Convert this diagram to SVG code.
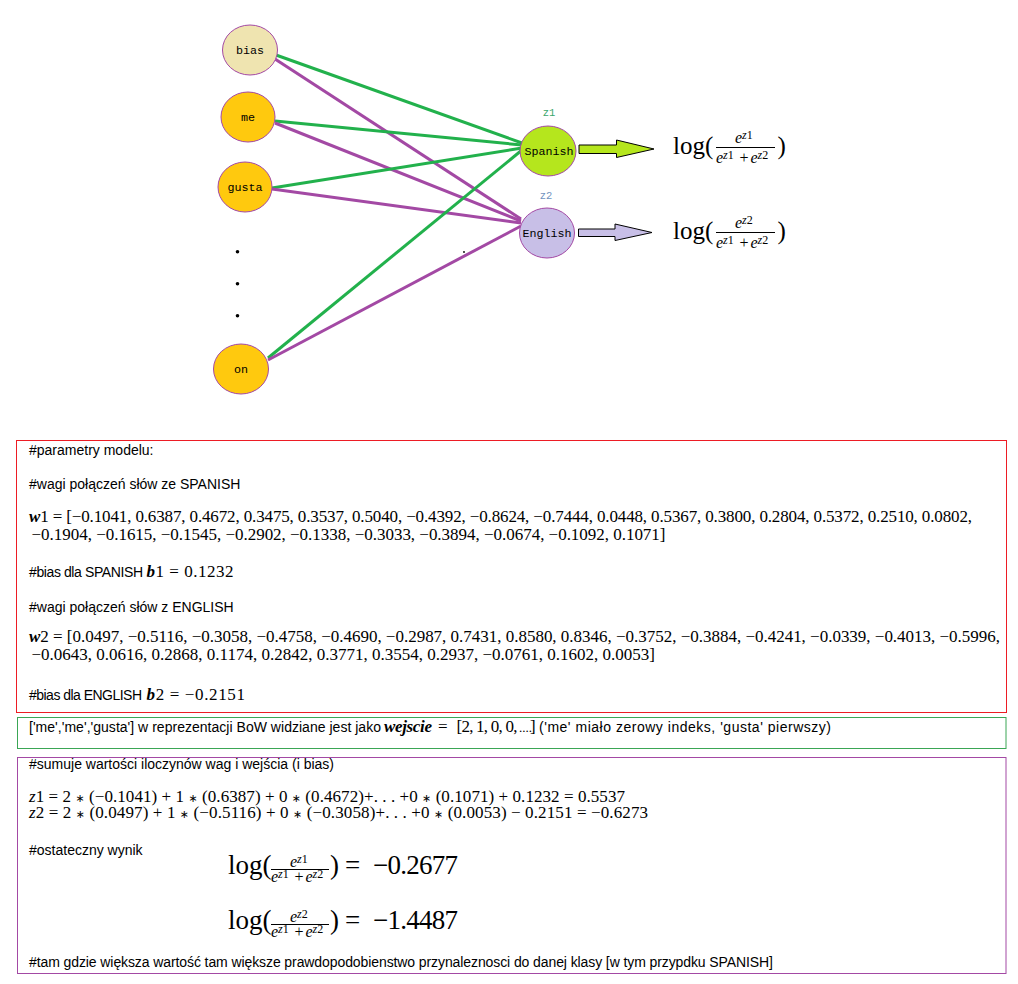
<svg xmlns="http://www.w3.org/2000/svg" width="1018" height="984" viewBox="0 0 1018 984">
  <style>
    .node { stroke: #a349a4; stroke-width: 1; }
    .lbl { font-family: "Liberation Mono", "Courier New", monospace; font-size: 11.7px; fill: #000; text-anchor: middle; }
    .zl { font-family: "Liberation Mono", "Courier New", monospace; font-size: 10.5px; text-anchor: middle; }
    .cg { stroke: #22b14c; stroke-width: 3; fill: none; }
    .cp { stroke: #a349a4; stroke-width: 3; fill: none; }
    .arr { stroke: #000; stroke-width: 1; }
    .t { font-family: "Liberation Sans", Arial, sans-serif; font-size: 14px; fill: #000; }
    .m { font-family: "Liberation Serif", "Times New Roman", serif; font-size: 17px; fill: #000; }
    .dots { font-family: "Liberation Serif", "Times New Roman", serif; font-size: 13px; fill: #000; }
    .big { font-family: "Liberation Serif", "Times New Roman", serif; font-size: 25px; fill: #000; }
    .big2 { font-family: "Liberation Serif", "Times New Roman", serif; font-size: 27px; fill: #000; }
    .fr { font-family: "Liberation Serif", "Times New Roman", serif; font-size: 16px; fill: #000; }
    .sup { font-size: 12px; }
    .i { font-style: italic; }
    .bi { font-style: italic; font-weight: bold; }
    .ast { font-family: "DejaVu Sans", sans-serif; font-size: 11px; }
    .bar { stroke: #000; stroke-width: 1; }
  </style>

  <!-- connectors: inputs to output units -->
  <g id="connectors">
    <line class="cg" x1="276" y1="55" x2="522" y2="143"/>
    <line class="cp" x1="275" y1="59" x2="521" y2="219"/>
    <line class="cg" x1="275" y1="121" x2="522" y2="145"/>
    <line class="cp" x1="275" y1="123" x2="521" y2="221"/>
    <line class="cg" x1="272" y1="188" x2="522" y2="148"/>
    <line class="cp" x1="272" y1="189" x2="521" y2="223"/>
    <line class="cg" x1="268" y1="358" x2="522" y2="150"/>
    <line class="cp" x1="268" y1="360" x2="521" y2="226"/>
  </g>

  <!-- input nodes -->
  <g id="node-bias">
    <ellipse class="node" cx="250" cy="50" rx="27.5" ry="25" fill="#efe4b0"/>
    <text class="lbl" x="250" y="54">bias</text>
  </g>
  <g id="node-me">
    <ellipse class="node" cx="248" cy="117" rx="27" ry="25" fill="#ffc90e"/>
    <text class="lbl" x="248" y="121">me</text>
  </g>
  <g id="node-gusta">
    <ellipse class="node" cx="245" cy="187" rx="27" ry="25" fill="#ffc90e"/>
    <text class="lbl" x="245" y="191">gusta</text>
  </g>
  <g id="ellipsis-dots" fill="#000">
    <circle cx="237.5" cy="251.7" r="1.8"/>
    <circle cx="237.5" cy="283.7" r="1.8"/>
    <circle cx="237.5" cy="315.7" r="1.8"/>
    <circle cx="464" cy="252" r="0.9"/>
  </g>
  <g id="node-on">
    <ellipse class="node" cx="241" cy="369" rx="27.5" ry="25" fill="#ffc90e"/>
    <text class="lbl" x="241" y="373">on</text>
  </g>

  <!-- output nodes -->
  <g id="node-spanish">
    <text class="zl" x="549" y="116" fill="#3aa66b">z1</text>
    <ellipse class="node" cx="548" cy="151" rx="28" ry="25" fill="#b5e61d"/>
    <text class="lbl" x="549" y="155">Spanish</text>
  </g>
  <g id="node-english">
    <text class="zl" x="546" y="199" fill="#7092be">z2</text>
    <ellipse class="node" cx="547" cy="233" rx="27.5" ry="25" fill="#c8bfe7"/>
    <text class="lbl" x="547" y="237">English</text>
  </g>

  <!-- output arrows -->
  <g id="arrow-spanish">
    <polygon class="arr" fill="#b5e61d" points="579,145 616.5,145 616.5,140 654,149 616.5,157.5 616.5,153.5 579,153.5"/>
  </g>
  <g id="arrow-english">
    <polygon class="arr" fill="#c8bfe7" points="578.5,229 615,229 615,224 652,232.5 615,240.5 615,236.5 578.5,236.5"/>
  </g>

  <!-- softmax formulas next to outputs -->
  <g id="formula-spanish">
    <text class="big" x="673" y="153.5">log(</text>
    <text class="fr"><tspan class="i" x="735" y="143">e</tspan><tspan class="sup i" x="742" y="139">z</tspan><tspan class="sup">1</tspan></text>
    <line class="bar" x1="716" y1="147.5" x2="775" y2="147.5"/>
    <text class="fr"><tspan class="i" x="716" y="162.5">e</tspan><tspan class="sup i" x="723" y="158.5">z</tspan><tspan class="sup">1</tspan><tspan x="739.5" y="162.5">+</tspan><tspan class="i" x="750.5" y="162.5">e</tspan><tspan class="sup i" x="757.5" y="158.5">z</tspan><tspan class="sup">2</tspan></text>
    <text class="big" x="777.5" y="153.5">)</text>
  </g>
  <g id="formula-english">
    <text class="big" x="673" y="238.5">log(</text>
    <text class="fr"><tspan class="i" x="735" y="228">e</tspan><tspan class="sup i" x="742" y="224">z</tspan><tspan class="sup">2</tspan></text>
    <line class="bar" x1="716" y1="232.5" x2="775" y2="232.5"/>
    <text class="fr"><tspan class="i" x="716" y="247.5">e</tspan><tspan class="sup i" x="723" y="243.5">z</tspan><tspan class="sup">1</tspan><tspan x="739.5" y="247.5">+</tspan><tspan class="i" x="750.5" y="247.5">e</tspan><tspan class="sup i" x="757.5" y="243.5">z</tspan><tspan class="sup">2</tspan></text>
    <text class="big" x="777.5" y="238.5">)</text>
  </g>

  <!-- model parameters -->
  <g id="box-params">
    <rect x="16.5" y="440.5" width="990" height="272" fill="none" stroke="#ed1c24" stroke-width="1"/>
    <text class="t" x="29" y="455">#parametry modelu:</text>
    <text class="t" x="29" y="489">#wagi połączeń słów ze SPANISH</text>
    <text class="m" x="29" y="522" textLength="943"><tspan class="bi">w</tspan>1 = [−0.1041, 0.6387, 0.4672, 0.3475, 0.3537, 0.5040, −0.4392, −0.8624, −0.7444, 0.0448, 0.5367, 0.3800, 0.2804, 0.5372, 0.2510, 0.0802,</text>
    <text class="m" x="31.5" y="540" textLength="634">−0.1904, −0.1615, −0.1545, −0.2902, −0.1338, −0.3033, −0.3894, −0.0674, −0.1092, 0.1071]</text>
    <text class="t" x="29" y="577" textLength="114">#bias dla SPANISH</text>
    <text class="m" x="146.5" y="577" textLength="87"><tspan class="bi">b</tspan>1 = 0.1232</text>
    <text class="t" x="29" y="612">#wagi połączeń słów z ENGLISH</text>
    <text class="m" x="29" y="642" textLength="971"><tspan class="bi">w</tspan>2 = [0.0497, −0.5116, −0.3058, −0.4758, −0.4690, −0.2987, 0.7431, 0.8580, 0.8346, −0.3752, −0.3884, −0.4241, −0.0339, −0.4013, −0.5996,</text>
    <text class="m" x="31.5" y="659.5" textLength="623.5">−0.0643, 0.0616, 0.2868, 0.1174, 0.2842, 0.3771, 0.3554, 0.2937, −0.0761, 0.1602, 0.0053]</text>
    <text class="t" x="29" y="700" textLength="113">#bias dla ENGLISH</text>
    <text class="m" x="146.5" y="700" textLength="98.5"><tspan class="bi">b</tspan>2 = −0.2151</text>
  </g>

  <!-- bag-of-words input -->
  <g id="box-input">
    <rect x="17.5" y="717.5" width="988.5" height="31" fill="none" stroke="#3aa655" stroke-width="1"/>
    <text class="t" x="29" y="732" textLength="352">['me','me','gusta'] w reprezentacji BoW widziane jest jako</text>
    <text class="m bi" x="384" y="732" textLength="48">wejscie</text>
    <text class="m" x="438" y="732">=</text>
    <text class="m" x="456.5" y="732" textLength="61">[2, 1, 0, 0,</text>
    <text class="dots" x="519" y="732">....</text>
    <text class="m" x="530" y="732">]</text>
    <text class="t" x="539" y="732" textLength="292">('me' miało zerowy indeks, 'gusta' pierwszy)</text>
  </g>

  <!-- computation of outputs -->
  <g id="box-result">
    <rect x="17.5" y="757.5" width="988.5" height="216" fill="none" stroke="#a349a4" stroke-width="1"/>
    <text class="t" x="29" y="769">#sumuje wartości iloczynów wag i wejścia (i bias)</text>
    <text class="m" x="29" y="802" textLength="596"><tspan class="i">z</tspan>1 = 2 <tspan class="ast">∗</tspan> (−0.1041) + 1 <tspan class="ast">∗</tspan> (0.6387) + 0 <tspan class="ast">∗</tspan> (0.4672)+. . . +0 <tspan class="ast">∗</tspan> (0.1071) + 0.1232 = 0.5537</text>
    <text class="m" x="29" y="818" textLength="619"><tspan class="i">z</tspan>2 = 2 <tspan class="ast">∗</tspan> (0.0497) + 1 <tspan class="ast">∗</tspan> (−0.5116) + 0 <tspan class="ast">∗</tspan> (−0.3058)+. . . +0 <tspan class="ast">∗</tspan> (0.0053) − 0.2151 = −0.6273</text>
    <text class="t" x="29" y="855">#ostateczny wynik</text>

    <text class="big2" x="228" y="873.5">log(</text>
    <text class="fr"><tspan class="i" x="290" y="866.5">e</tspan><tspan class="sup i" x="297" y="862.5">z</tspan><tspan class="sup">1</tspan></text>
    <line class="bar" x1="271" y1="869.5" x2="329" y2="869.5"/>
    <text class="fr"><tspan class="i" x="271" y="882">e</tspan><tspan class="sup i" x="278" y="878">z</tspan><tspan class="sup">1</tspan><tspan x="294.5" y="882">+</tspan><tspan class="i" x="305.5" y="882">e</tspan><tspan class="sup i" x="312.5" y="878">z</tspan><tspan class="sup">2</tspan></text>
    <text class="big2" x="330" y="873.5">)</text>
    <text class="big2" x="345" y="873.5">=</text>
    <text class="big2" x="373" y="873.5" textLength="85">−0.2677</text>

    <text class="big2" x="228" y="928.5">log(</text>
    <text class="fr"><tspan class="i" x="290" y="921.5">e</tspan><tspan class="sup i" x="297" y="917.5">z</tspan><tspan class="sup">2</tspan></text>
    <line class="bar" x1="271" y1="924.5" x2="329" y2="924.5"/>
    <text class="fr"><tspan class="i" x="271" y="937">e</tspan><tspan class="sup i" x="278" y="933">z</tspan><tspan class="sup">1</tspan><tspan x="294.5" y="937">+</tspan><tspan class="i" x="305.5" y="937">e</tspan><tspan class="sup i" x="312.5" y="933">z</tspan><tspan class="sup">2</tspan></text>
    <text class="big2" x="330" y="928.5">)</text>
    <text class="big2" x="345" y="928.5">=</text>
    <text class="big2" x="373" y="928.5" textLength="85">−1.4487</text>

    <text class="t" x="29" y="967" textLength="744">#tam gdzie większa wartość tam większe prawdopodobienstwo przynaleznosci do danej klasy [w tym przypdku SPANISH]</text>
  </g>
</svg>
